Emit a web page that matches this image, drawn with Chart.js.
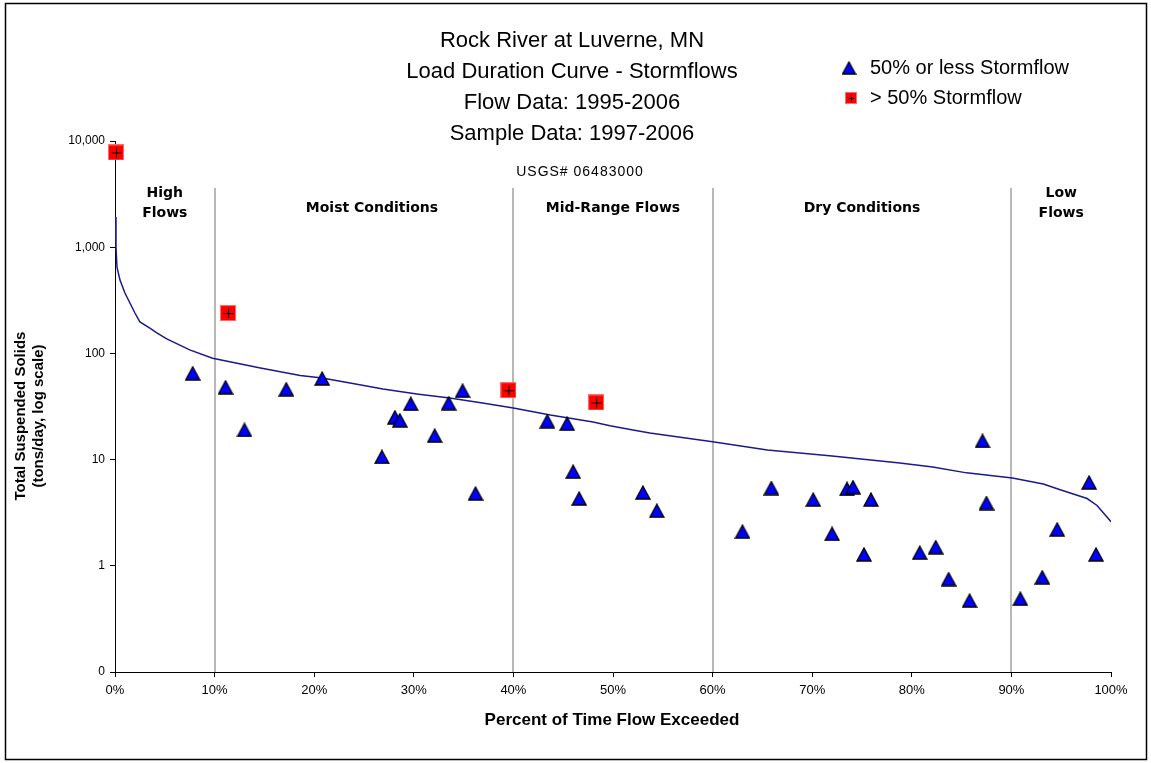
<!DOCTYPE html>
<html>
<head>
<meta charset="utf-8">
<title>Rock River at Luverne, MN - Load Duration Curve</title>
<script src="https://cdn.jsdelivr.net/npm/chart.js@4.4.1/dist/chart.umd.min.js"></script>
<style>
  html, body { margin: 0; padding: 0; background: #fff; }
  #wrap { width: 1151px; height: 763px; }
</style>
</head>
<body>
<div id="wrap"><canvas id="c" width="1151" height="763"></canvas></div>
<script>
// Load duration curve (percent of time flow exceeded vs. TSS load, tons/day)
const curvePct  = [0, 0.1, 0.2, 0.5, 1.0, 1.5, 2.0, 2.5, 3.5, 4.2, 5.2, 7.5, 9.8, 14.6, 18.6, 20.8, 23.6, 26.9, 30.3, 33.6, 36.9, 40, 43.7, 48, 49.7, 52, 53.7, 60, 65.5, 72, 78.8, 82.1, 85.5, 90.1, 93.2, 94.9, 97.6, 98.6, 100];
const curveLoad = [1925, 1000, 650, 490, 370, 298, 240, 198, 173, 156, 137, 108, 90, 73, 62, 58.7, 52.6, 46.2, 41.5, 38.0, 34.1, 30.6, 26.3, 22.6, 20.8, 19.0, 17.8, 14.7, 12.3, 10.8, 9.3, 8.5, 7.5, 6.7, 5.9, 5.2, 4.3, 3.7, 2.6];

// Samples with 50% or less stormflow
const lowStormPct  = [7.8, 11.1, 13.0, 17.2, 20.8, 26.8, 28.1, 28.6, 29.7, 32.1, 33.5, 34.9, 36.2, 43.4, 45.4, 46.0, 46.6, 53.0, 54.4, 63.0, 65.9, 70.1, 72.0, 73.5, 74.1, 75.2, 75.9, 80.8, 82.4, 83.7, 85.8, 87.1, 87.5, 90.9, 93.1, 94.6, 97.8, 98.5];
const lowStormLoad = [65, 48, 19, 46, 58, 10.6, 25, 23.5, 33.5, 16.8, 34, 44.5, 4.8, 23, 21.8, 7.7, 4.3, 4.9, 3.3, 2.1, 5.4, 4.2, 2.0, 5.3, 5.5, 1.28, 4.2, 1.33, 1.5, 0.75, 0.47, 15, 3.9, 0.49, 0.78, 2.2, 6.1, 1.28];

// Samples with more than 50% stormflow
const highStormPct  = [0.1, 11.35, 39.5, 48.3];
const highStormLoad = [7800, 240, 45, 34.5];

// Flow zones
const zoneBounds = [10, 40, 60, 90];
const zoneNames  = [["High", "Flows"], ["Moist Conditions"], ["Mid-Range Flows"], ["Dry Conditions"], ["Low", "Flows"]];
const yTicks = [0.1, 1, 10, 100, 1000, 10000];
const xTicks = [0, 10, 20, 30, 40, 50, 60, 70, 80, 90, 100];

const titleLines = ["Rock River at Luverne, MN", "Load Duration Curve - Stormflows", "Flow Data: 1995-2006", "Sample Data: 1997-2006"];
const subTitle = "USGS# 06483000";
const legendNames = ["50% or less Stormflow", "> 50% Stormflow"];

const SANS = '"Liberation Sans", Arial, sans-serif';

function makeTriangle(w, h) {
  const c = document.createElement('canvas');
  c.width = w + 2; c.height = h + 2;
  const g = c.getContext('2d');
  g.beginPath();
  g.moveTo((w + 2) / 2, 1);
  g.lineTo(w + 1, h + 1);
  g.lineTo(1, h + 1);
  g.closePath();
  g.fillStyle = '#0000ff';
  g.fill();
  g.lineWidth = 1.3;
  g.strokeStyle = '#000';
  g.stroke();
  return c;
}

function makeSquare(s, arm) {
  const c = document.createElement('canvas');
  c.width = s; c.height = s;
  const g = c.getContext('2d');
  g.fillStyle = '#ff0000';
  g.fillRect(0, 0, s, s);
  g.strokeStyle = 'rgba(255,120,120,0.9)';
  g.lineWidth = 1;
  g.strokeRect(0.5, 0.5, s - 1, s - 1);
  const m = Math.floor(s / 2) + 0.5;
  g.strokeStyle = '#000';
  g.beginPath();
  g.moveTo(m - arm, m); g.lineTo(m + arm, m);
  g.moveTo(m, m - arm); g.lineTo(m, m + arm);
  g.stroke();
  return c;
}

const triImg = makeTriangle(14, 13);
const sqImg = makeSquare(16, 5);
const triLegend = makeTriangle(13, 12);
const sqLegend = makeSquare(12, 3);

const decorations = {
  id: 'decorations',
  beforeDraw(chart) {
    const g = chart.ctx;
    g.save();
    g.fillStyle = '#fff';
    g.fillRect(0, 0, chart.width, chart.height);
    g.restore();
  },
  beforeDatasetsDraw(chart) {
    const g = chart.ctx;
    const xs = chart.scales.x;
    const area = chart.chartArea;
    g.save();
    g.strokeStyle = '#b8b8b8';
    g.lineWidth = 2;
    zoneBounds.forEach(b => {
      const px = Math.round(xs.getPixelForValue(b));
      g.beginPath();
      g.moveTo(px, 188);
      g.lineTo(px, area.bottom);
      g.stroke();
    });
    g.restore();
  },
  afterDraw(chart) {
    const g = chart.ctx;
    const xs = chart.scales.x;
    g.save();
    // frame
    g.strokeStyle = '#000';
    g.lineWidth = 1.5;
    g.strokeRect(5.5, 3.5, 1141, 756);

    // titles
    g.fillStyle = '#000';
    g.textAlign = 'center';
    g.textBaseline = 'middle';
    g.font = '22px ' + SANS;
    titleLines.forEach((t, i) => g.fillText(t, 572, 41 + i * 31));
    g.font = '14px ' + SANS;
    g.letterSpacing = '1px';
    g.fillText(subTitle, 580, 172);
    g.letterSpacing = '0px';

    // zone labels
    const zoneCenters = [
      (0 + zoneBounds[0]) / 2,
      (zoneBounds[0] + zoneBounds[1]) / 2 + 0.8,
      (zoneBounds[1] + zoneBounds[2]) / 2,
      (zoneBounds[2] + zoneBounds[3]) / 2,
      (zoneBounds[3] + 100) / 2
    ];
    g.font = 'bold 14px "DejaVu Sans", sans-serif';
    zoneNames.forEach((lines, i) => {
      const cx = xs.getPixelForValue(zoneCenters[i]);
      if (lines.length === 1) {
        g.fillText(lines[0], cx, 208);
      } else {
        g.fillText(lines[0], cx, 193);
        g.fillText(lines[1], cx, 213);
      }
    });

    // axis titles
    g.font = 'bold 17px ' + SANS;
    g.fillText('Percent of Time Flow Exceeded', 612, 720);
    g.font = 'bold 15px ' + SANS;
    g.save();
    g.translate(21, 416);
    g.rotate(-Math.PI / 2);
    g.fillText('Total Suspended Solids', 0, 0);
    g.fillText('(tons/day, log scale)', 0, 18);
    g.restore();

    // legend
    g.textAlign = 'left';
    g.font = '20px ' + SANS;
    g.drawImage(triLegend, 849 - triLegend.width / 2, 68 - triLegend.height / 2);
    g.fillText(legendNames[0], 870, 68);
    g.drawImage(sqLegend, 851 - sqLegend.width / 2, 98 - sqLegend.height / 2);
    g.fillText(legendNames[1], 870, 98);
    g.restore();
  }
};

const ctx = document.getElementById('c').getContext('2d');
new Chart(ctx, {
  type: 'scatter',
  data: {
    datasets: [
      {
        label: legendNames[0],
        data: lowStormPct.map((x, i) => ({ x: x, y: lowStormLoad[i] })),
        pointStyle: triImg,
        pointRadius: 7,
        order: 0,
        clip: false
      },
      {
        label: legendNames[1],
        data: highStormPct.map((x, i) => ({ x: x, y: highStormLoad[i] })),
        pointStyle: sqImg,
        pointRadius: 8,
        order: 1,
        clip: false
      },
      {
        label: 'Load duration curve',
        type: 'line',
        data: curvePct.map((x, i) => ({ x: x, y: curveLoad[i] })),
        borderColor: '#1a1a8c',
        borderWidth: 1.5,
        pointRadius: 0,
        tension: 0,
        fill: false,
        order: 2
      }
    ]
  },
  options: {
    responsive: false,
    animation: false,
    devicePixelRatio: 1,
    layout: { padding: { left: 0, top: 141, right: 40, bottom: 0 } },
    plugins: { legend: { display: false }, tooltip: { enabled: false }, title: { display: false } },
    scales: {
      x: {
        type: 'linear',
        min: 0,
        max: 100,
        afterBuildTicks: axis => { axis.ticks = xTicks.map(v => ({ value: v })); },
        afterFit: axis => { axis.height = 91; },
        ticks: {
          callback: v => v + '%',
          color: '#000',
          font: { family: SANS, size: 13 },
          padding: 6,
          maxRotation: 0,
          autoSkip: false
        },
        grid: { drawOnChartArea: false, drawTicks: true, tickLength: 5, tickColor: '#000' },
        border: { display: true, color: '#000', width: 1 }
      },
      y: {
        type: 'logarithmic',
        min: 0.1,
        max: 10000,
        afterBuildTicks: axis => { axis.ticks = yTicks.map(v => ({ value: v, major: true })); },
        afterFit: axis => { axis.width = 115; },
        ticks: {
          callback: v => Math.round(v).toLocaleString('en-US'),
          color: '#000',
          font: { family: SANS, size: 12 },
          padding: 5,
          autoSkip: false
        },
        grid: { drawOnChartArea: false, drawTicks: true, tickLength: 5, tickColor: '#000' },
        border: { display: true, color: '#000', width: 1 }
      }
    }
  },
  plugins: [decorations]
});
</script>
</body>
</html>
